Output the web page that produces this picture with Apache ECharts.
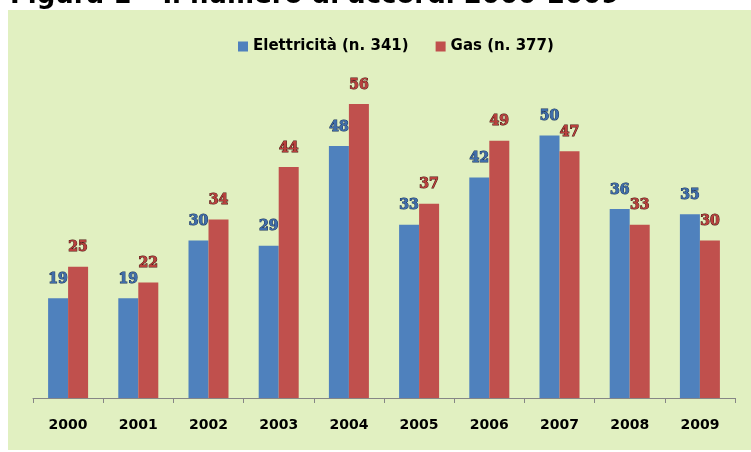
<!DOCTYPE html>
<html>
<head>
<meta charset="utf-8">
<script src="https://cdn.jsdelivr.net/npm/echarts@6/dist/echarts.min.js"></script>
<style>html,body{margin:0;padding:0;background:#fff}#c{width:751px;height:452px}</style>
</head>
<body>
<div id="c"></div>
<script>
const categories = ['2000','2001','2002','2003','2004','2005','2006','2007','2008','2009'];
const elettricita = [19,19,30,29,48,33,42,50,36,35];
const gas = [25,22,34,44,56,37,49,47,33,30];
const legendNames = ['Elettricità (n. 341)','Gas (n. 377)'];
const titleText = 'Figura 1 – Il numero di accordi 2000-2009';

const chart = echarts.init(document.getElementById('c'), null, {renderer:'canvas'});
const lbl = (color, border) => ({
  show: true, position: 'top', distance: 12,
  fontFamily: 'DejaVu Serif', fontWeight: 'bold', fontSize: 14,
  color: color, textBorderColor: border, textBorderWidth: 1
});
chart.setOption({
  animation: false,
  backgroundColor: '#ffffff',
  graphic: [
    {type:'rect', z:-10, shape:{x:8,y:10,width:743,height:440}, style:{fill:'#E1F0C1'}},
    {type:'text', z:10, x:10, y:9, style:{text:titleText, font:'bold 26px "DejaVu Sans"', fill:'#000', verticalAlign:'bottom'}}
  ],
  legend: {
    data: legendNames, top: 34, left: 233,
    itemWidth: 10, itemHeight: 10, itemGap: 27,
    icon: 'rect',
    textStyle: {fontFamily:'DejaVu Sans', fontWeight:'bold', fontSize:15, color:'#000'}
  },
  grid: {left: 33, right: 16, top: 83, bottom: 54, containLabel: false},
  xAxis: {
    type: 'category', data: categories, boundaryGap: true,
    axisLine: {lineStyle:{color:'#868686', width:1}},
    axisTick: {show:true, length:5, lineStyle:{color:'#868686'}},
    axisLabel: {margin: 20, fontFamily:'DejaVu Sans', fontWeight:'bold', fontSize:14, color:'#000'}
  },
  yAxis: {type:'value', min:0, max:60, show:false, splitLine:{show:false}},
  series: [
    {name: legendNames[0], type:'bar', data: elettricita, barWidth: 20, barGap:'0%',
     itemStyle:{color:'#4F81BD'}, label: lbl('#3F6DAA','#17305A')},
    {name: legendNames[1], type:'bar', data: gas, barWidth: 20,
     itemStyle:{color:'#C0504D'}, label: lbl('#B8403D','#4A1412')}
  ]
});
</script>
</body>
</html>
